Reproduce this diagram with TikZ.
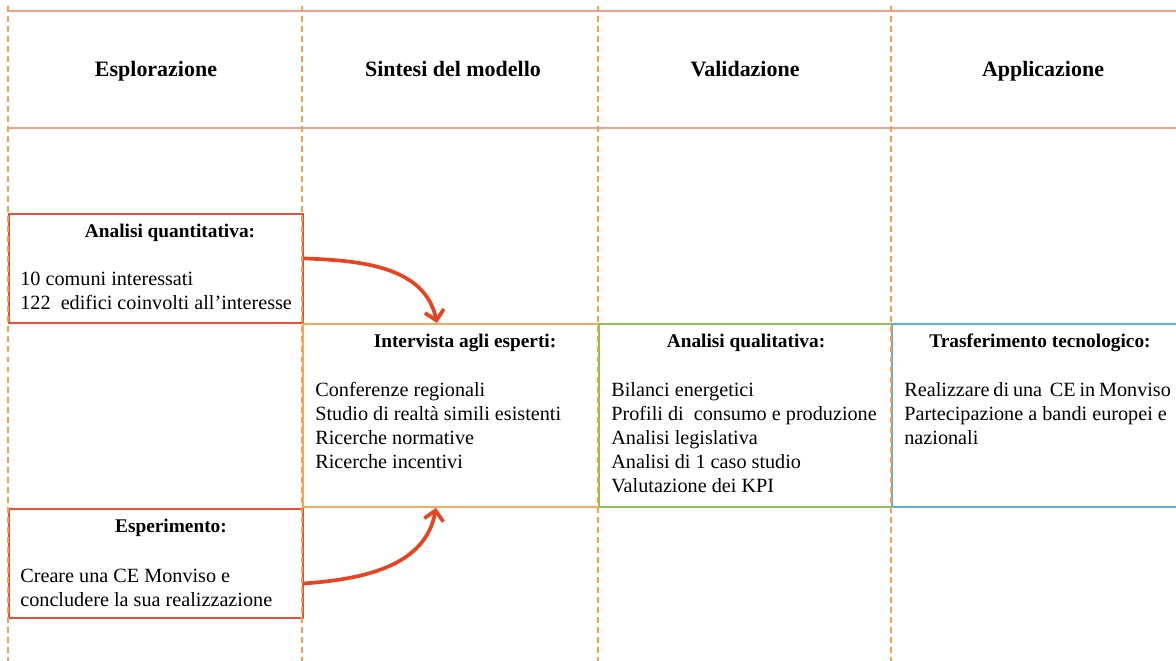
\documentclass[tikz,border=0pt]{standalone}
\usepackage{fontspec}
\setmainfont{Liberation Serif}
\usetikzlibrary{arrows.meta}

\definecolor{salmone}{HTML}{F2A08C}
\definecolor{arancio}{HTML}{F7A048}
\definecolor{rosso}{HTML}{E8503A}
\definecolor{arancioboz}{HTML}{F6A95C}
\definecolor{verde}{HTML}{8DC153}
\definecolor{azzurro}{HTML}{5DADE2}
\definecolor{freccia}{HTML}{E9441F}

\begin{document}
\begin{tikzpicture}[x=0.02cm, y=-0.02cm,
    hdr/.style={font=\fontsize{12.5}{15}\selectfont\bfseries, anchor=base, inner sep=0pt},
    ttl/.style={font=\fontsize{11}{13}\selectfont\bfseries, anchor=base, inner sep=0pt},
    txt/.style={font=\fontsize{11.5}{13.66}\selectfont, align=left, anchor=base west, inner sep=0pt},
    phase/.style={draw=#1, line width=1.1pt, anchor=north west, inner sep=0pt},
    arr/.style={-{Straight Barb[length=5.5pt,width=11pt]}, line width=2.1pt, draw=freccia}]
  \useasboundingbox (0,0) rectangle (1176,661);
  \draw[salmone, line width=1.1pt] (8,11) -- (1176,11) (8,128) -- (1176,128);
  \foreach \x/\t/\n in {156/Esplorazione/esp, 453/Sintesi del modello/sin,
                        745/Validazione/val, 1043/Applicazione/app}
    \node[hdr] (\n) at (\x,77) {\t};

  \node[phase=rosso, minimum width=5.88cm, minimum height=2.18cm] (quant) at (8,213) {};
  \node[phase=rosso, minimum width=5.88cm, minimum height=2.18cm] (esper) at (8,508) {};
  \node[phase=arancioboz, minimum width=5.92cm, minimum height=3.66cm] (interv) at (302,323) {};
  \node[phase=verde, minimum width=5.86cm, minimum height=3.66cm] (qual) at (598,323) {};
  \node[phase=azzurro, minimum width=6.2cm, minimum height=3.66cm] (trasf) at (891,323) {};

  \node[ttl] (tquant) at (170,238) {Analisi quantitativa:};
  \node[txt] (bquant) at (20,310) {10 comuni interessati\\122~ edifici coinvolti all’interesse};
  \node[ttl] (tinterv) at (465,348) {Intervista agli esperti:};
  \node[txt] (binterv) at (315,469) {Conferenze regionali\\Studio di realtà simili esistenti\\
    Ricerche normative\\Ricerche incentivi};
  \node[ttl] (tqual) at (746,348) {Analisi qualitativa:};
  \node[txt] (bqual) at (611,493) {Bilanci energetici\\Profili di~ consumo e produzione\\
    Analisi legislativa\\Analisi di 1 caso studio\\Valutazione dei KPI};
  \node[ttl] (ttrasf) at (1040,348) {Trasferimento tecnologico:};
  \node[txt] (btrasf) at (904,445) {{\spaceskip=0.19em Realizzare di una\hspace{0.19em} CE in Monviso}\\
    Partecipazione a bandi europei e\\nazionali};
  \node[ttl] (tesper) at (171,533) {Esperimento:};
  \node[txt] (besper) at (20,606) {Creare una CE Monviso e\\concludere la sua realizzazione};

  \foreach \x in {8,302,598,891}
    \draw[arancio, line width=1.1pt, dash pattern=on 3.4pt off 2.3pt] (\x,6) -- (\x,661);

  \draw[arr] ([yshift=0.2cm]quant.east) to[out=-2, in=102] ([xshift=-0.28cm]interv.north);
  \draw[arr] ([yshift=-0.4cm]esper.east) to[out=4, in=-100] ([xshift=-0.3cm]interv.south);
\end{tikzpicture}
\end{document}
